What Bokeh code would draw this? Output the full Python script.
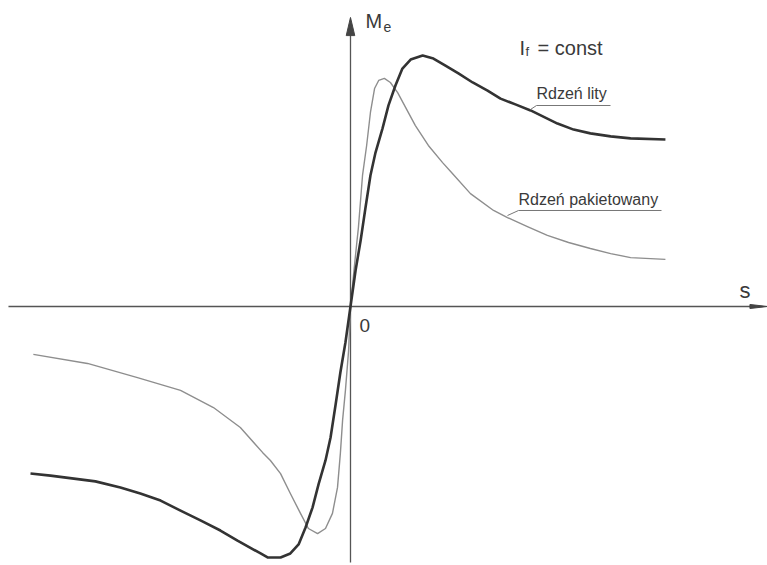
from bokeh.plotting import figure
from bokeh.models import Range1d
from bokeh.core.properties import value
from bokeh.embed import file_html
from bokeh.resources import INLINE

# Torque-slip characteristics M_e(s) at I_f = const, relative units (M / M_max of solid rotor)
# Solid rotor ("Rdzeń lity")
solid_s = [-1.011, -0.948, -0.806, -0.727, -0.664, -0.600, -0.537, -0.474, -0.411, -0.357,
           -0.284, -0.262, -0.221, -0.190, -0.164, -0.142, -0.120, -0.101, -0.079, -0.063,
           -0.047, -0.032, -0.016, 0.0, 0.016, 0.032, 0.047, 0.063, 0.079, 0.101, 0.120,
           0.142, 0.164, 0.190, 0.228, 0.262, 0.300, 0.341, 0.386, 0.433, 0.474, 0.521,
           0.569, 0.654, 0.705, 0.758, 0.822, 0.885, 0.995]
solid_m = [-0.663, -0.671, -0.694, -0.718, -0.742, -0.770, -0.810, -0.849, -0.889, -0.929,
           -0.980, -0.996, -0.996, -0.980, -0.944, -0.877, -0.798, -0.706, -0.611, -0.520,
           -0.389, -0.262, -0.143, 0.0, 0.143, 0.262, 0.389, 0.520, 0.611, 0.706, 0.798,
           0.877, 0.944, 0.980, 0.996, 0.984, 0.956, 0.925, 0.889, 0.857, 0.825, 0.802,
           0.778, 0.726, 0.702, 0.687, 0.675, 0.667, 0.663]

# Laminated rotor ("Rdzeń pakietowany")
lam_s = [-1.002, -0.831, -0.673, -0.537, -0.433, -0.348, -0.278, -0.253, -0.221, -0.190,
         -0.158, -0.133, -0.104, -0.079, -0.057, -0.041, -0.032, -0.025, -0.016, -0.006,
         0.0, 0.010, 0.019, 0.025, 0.038, 0.051, 0.063, 0.076, 0.089, 0.107, 0.126,
         0.149, 0.174, 0.205, 0.246, 0.291, 0.322, 0.379, 0.452, 0.496, 0.559, 0.622,
         0.689, 0.758, 0.822, 0.885, 0.995]
lam_m = [-0.190, -0.226, -0.282, -0.333, -0.401, -0.480, -0.579, -0.611, -0.663, -0.742,
         -0.821, -0.881, -0.901, -0.881, -0.821, -0.718, -0.583, -0.452, -0.333, -0.175,
         0.0, 0.131, 0.242, 0.313, 0.520, 0.639, 0.770, 0.865, 0.897, 0.905, 0.889,
         0.849, 0.790, 0.718, 0.639, 0.571, 0.528, 0.448, 0.381, 0.353, 0.317, 0.282,
         0.254, 0.230, 0.210, 0.194, 0.187]

INK = "#3a3a3a"
FONT = value("Liberation Sans")
LIFT = -7  # pixel nudge applied to all labels

p = figure(width=767, height=565, output_backend="svg", toolbar_location=None,
           x_range=Range1d(-1.1058, 1.3175), y_range=Range1d(-1.0278, 1.2143),
           min_border=0, background_fill_color="white", border_fill_color="white")
p.axis.visible = False
p.grid.visible = False
p.outline_line_color = None

# Coordinate axes drawn as plain lines with arrow heads
p.line([-1.0806, 1.29], [0.0, 0.0], line_color="#555555", line_width=1.3)
p.patch([1.262, 1.3175, 1.262], [0.008, 0.0, -0.008], fill_color="#444444", line_color="#444444")
p.line([0.0, 0.0], [-1.016, 1.10], line_color="#555555", line_width=1.3)
p.patch([-0.0135, 0.0, 0.0135], [1.075, 1.147, 1.075], fill_color="#444444", line_color="#444444")

# Characteristics
p.line(lam_s, lam_m, line_color="#8e8e8e", line_width=1.4, line_join="round")
p.line(solid_s, solid_m, line_color="#333333", line_width=2.6, line_join="round")


def label(x, y, txt, size):
    p.text(x=[x], y=[y], text=[txt], text_font=FONT, text_font_size=size,
           text_color=INK, text_baseline="alphabetic", y_offset=LIFT)


# Axis labels
label(0.0474, 1.107, "M", "20px")
label(0.1043, 1.083, "e", "14px")
label(1.229, 0.0357, "s", "22px")
label(0.0284, -0.1032, "0", "19px")

# Condition I_f = const
label(0.534, 1.0, "I", "20px")
label(0.553, 0.984, "f", "13px")
label(0.591, 1.0, "= const", "20px")

# Curve labels with underline leaders
label(0.5877, 0.8175, "Rdzeń lity", "16px")
p.line([0.5687, 0.5877, 0.8215], [0.7817, 0.7976, 0.7976], line_color="#777777", line_width=1)

label(0.5308, 0.3968, "Rdzeń pakietowany", "16px")
p.line([0.496, 0.5308, 0.9826], [0.361, 0.381, 0.381], line_color="#777777", line_width=1)

open("out.html", "w").write(file_html(p, INLINE))
